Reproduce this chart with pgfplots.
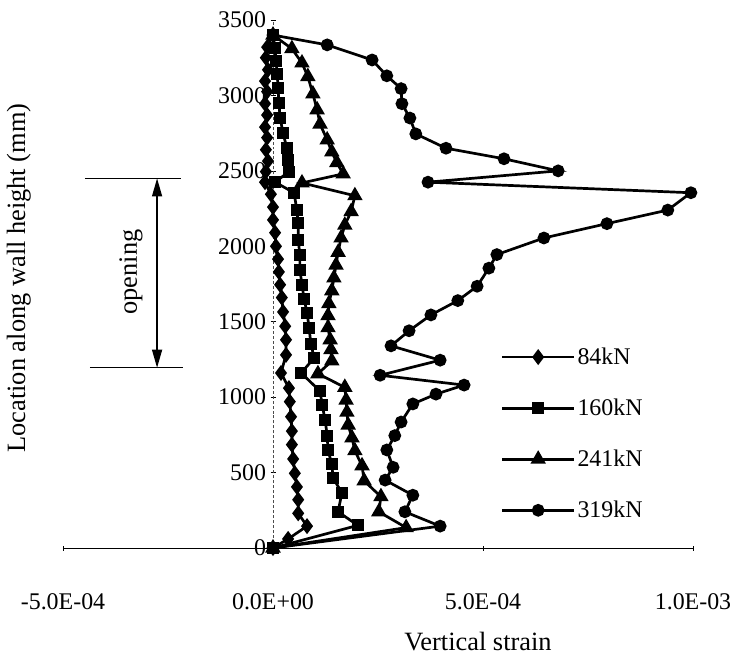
\documentclass[border=0pt]{standalone}
\usepackage{fontspec}
\setmainfont{Liberation Serif}
\usepackage{pgfplots}
\pgfplotsset{compat=1.18}
\usetikzlibrary{arrows.meta}
\newcommand{\tf}{\fontsize{24}{28}\selectfont}
\newcommand{\lf}{\fontsize{26.5}{30}\selectfont}
\begin{document}
\begin{tikzpicture}[x=1bp,y=1bp]
\begin{axis}[
  at={(0,0)}, anchor=south west,
  scale only axis, width=630bp, height=528bp,
  xmin=-5e-4, xmax=1e-3, ymin=0, ymax=3500,
  axis x line*=bottom, axis y line*=middle,
  axis line style={-},
  x axis line style={black, line width=0.8bp},
  y axis line style={black!70, densely dashed, line width=0.6bp},
  hide obscured x ticks=false, hide obscured y ticks=false,
  xtick={-5e-4,0,5e-4,1e-3},
  xticklabels={-5.0E-04,0.0E+00,5.0E-04,1.0E-03},
  scaled x ticks=false,
  ytick={0,500,...,3500},
  tick align=center, major tick length=5bp,
  tick style={black, line width=0.6bp},
  xticklabel style={font=\tf, yshift=-40bp},
  yticklabel style={font=\tf, xshift=-1bp},
  /pgf/number format/.cd, 1000 sep={}, assume math mode=true, /pgfplots/.cd,
  clip=false,
  legend style={at={(axis cs:5.42e-4,1340)}, anchor=north west, draw=none, fill=none,
    font=\tf, row sep=29bp, inner sep=0bp},
  legend cell align=left,
  legend image code/.code={\draw[mark repeat=2,mark phase=2,#1] plot coordinates {(0bp,0bp) (36bp,0bp) (72bp,0bp)};},
  every axis plot/.append style={black, line width=2.7bp, mark options={solid, fill=black}},
]
% 84kN
\addplot[mark=diamond*, mark size=5.8bp] coordinates {
(0,3400) (-0.14e-4,3320) (-0.17e-4,3250) (-0.12e-4,3170) (-0.19e-4,3095) (-0.14e-4,3025)
(-0.19e-4,2945) (-0.14e-4,2870) (-0.19e-4,2790) (-0.14e-4,2720) (-0.17e-4,2640) (-0.12e-4,2565)
(-0.17e-4,2495) (-0.19e-4,2425) (-0.05e-4,2345) (0,2260) (0,2175) (0.05e-4,2090) (0.07e-4,2000)
(0.12e-4,1915) (0.14e-4,1830) (0.17e-4,1745) (0.21e-4,1660) (0.24e-4,1565) (0.29e-4,1470)
(0.31e-4,1380) (0.31e-4,1280) (0.19e-4,1160) (0.38e-4,1060) (0.40e-4,970) (0.43e-4,870)
(0.45e-4,775) (0.45e-4,685) (0.48e-4,590) (0.52e-4,495) (0.57e-4,405) (0.60e-4,320)
(0.60e-4,230) (0.81e-4,145) (0.36e-4,60) (0,0)
};
% 160kN
\addplot[mark=square*, mark size=4.7bp] coordinates {
(0,3400) (0.05e-4,3315) (0.07e-4,3230) (0.10e-4,3145) (0.12e-4,3050) (0.14e-4,2950)
(0.17e-4,2850) (0.24e-4,2750) (0.33e-4,2650) (0.36e-4,2570) (0.38e-4,2495) (0.05e-4,2425)
(0.50e-4,2355) (0.57e-4,2240) (0.60e-4,2155) (0.60e-4,2040) (0.64e-4,1945) (0.64e-4,1845)
(0.69e-4,1745) (0.74e-4,1650) (0.81e-4,1560) (0.86e-4,1460) (0.90e-4,1355) (0.98e-4,1260)
(0.67e-4,1160) (1.12e-4,1040) (1.17e-4,950) (1.24e-4,850) (1.29e-4,745) (1.31e-4,650)
(1.40e-4,555) (1.43e-4,465) (1.64e-4,365) (1.55e-4,240) (2.02e-4,150) (0,0)
};
% 241kN
\addplot[mark=triangle*, mark size=6.3bp] coordinates {
(0,3400) (0.45e-4,3310) (0.69e-4,3215) (0.83e-4,3125) (0.95e-4,3010) (1.05e-4,2905)
(1.12e-4,2810) (1.29e-4,2705) (1.40e-4,2625) (1.52e-4,2555) (1.67e-4,2480) (0.69e-4,2420)
(1.95e-4,2335) (1.86e-4,2230) (1.71e-4,2140) (1.62e-4,2055) (1.55e-4,1960) (1.50e-4,1875)
(1.45e-4,1790) (1.40e-4,1705) (1.33e-4,1620) (1.31e-4,1540) (1.31e-4,1460) (1.36e-4,1380)
(1.38e-4,1315) (1.40e-4,1240) (1.07e-4,1155) (1.71e-4,1065) (1.74e-4,980) (1.76e-4,900)
(1.79e-4,815) (1.88e-4,730) (1.95e-4,645) (2.12e-4,545) (2.17e-4,445) (2.57e-4,340)
(2.52e-4,240) (3.17e-4,135) (0,0)
};
% 319kN
\addplot[mark=*, mark size=5bp] coordinates {
(0,3400) (1.29e-4,3335) (2.36e-4,3235) (2.71e-4,3130) (3.05e-4,3045) (3.07e-4,2945)
(3.26e-4,2850) (3.40e-4,2745) (4.12e-4,2650) (5.50e-4,2580) (6.79e-4,2500) (3.69e-4,2425)
(9.95e-4,2355) (9.40e-4,2240) (7.95e-4,2150) (6.45e-4,2055) (5.33e-4,1945) (5.14e-4,1855)
(4.86e-4,1735) (4.40e-4,1640) (3.76e-4,1545) (3.24e-4,1440) (2.81e-4,1340) (3.98e-4,1245)
(2.55e-4,1145) (4.55e-4,1080) (3.88e-4,1020) (3.33e-4,955) (3.05e-4,835) (2.90e-4,745)
(2.71e-4,650) (2.86e-4,535) (2.67e-4,450) (3.33e-4,350) (3.14e-4,240) (3.98e-4,145) (0,0)
};
\legend{84kN,160kN,241kN,319kN}
% opening annotation
\draw[line width=1.3bp] (axis cs:-4.48e-4,2450) -- (axis cs:-2.2e-4,2450);
\draw[line width=1.3bp] (axis cs:-4.36e-4,1195) -- (axis cs:-2.14e-4,1195);
\draw[line width=1.3bp, {Triangle[length=18bp,width=10bp]}-{Triangle[length=18bp,width=10bp]}]
  (axis cs:-2.76e-4,2450) -- (axis cs:-2.76e-4,1195);
\node[rotate=90, font=\lf] at (axis cs:-3.38e-4,1830) {opening};
\node[rotate=90, font=\lf] at (axis cs:-6.05e-4,1790) {Location along wall height (mm)};
\node[font=\lf] at (axis cs:4.88e-4,-620) {Vertical strain};
\end{axis}
\pgfresetboundingbox
\path[use as bounding box] (-63bp,-116bp) rectangle (676bp,548bp);
\end{tikzpicture}
\end{document}
